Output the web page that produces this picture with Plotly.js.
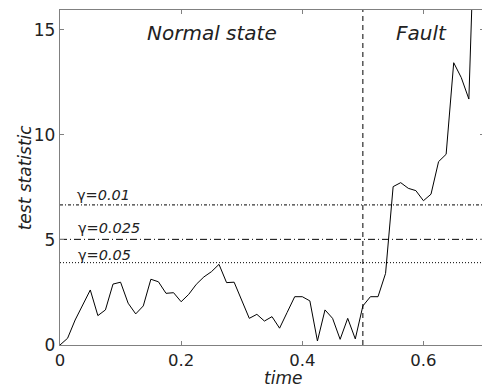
<!DOCTYPE html>
<html>
<head>
<meta charset="utf-8">
<script src="https://cdn.plot.ly/plotly-3.0.1.min.js"></script>
<style>
html,body{margin:0;padding:0;overflow:hidden;background:#fff;}
#chart{width:484px;height:389px;}
</style>
</head>
<body>
<div id="chart"></div>
<script>
// ---- data ----
const timeStep = 0.0125;
const testStatistic = [
  0, 0.32, 1.19, 1.90, 2.62, 1.40, 1.67, 2.90, 2.99, 1.99,
  1.48, 1.86, 3.13, 3.01, 2.46, 2.49, 2.06, 2.41, 2.89, 3.24,
  3.49, 3.84, 2.97, 2.99, 2.15, 1.27, 1.46, 1.14, 1.35, 0.80,
  1.55, 2.30, 2.30, 2.10, 0.19, 1.67, 1.27, 0.27, 1.27, 0.29,
  1.86, 2.30, 2.30, 3.41, 7.54, 7.73, 7.46, 7.35, 6.87, 7.18,
  8.73, 9.08, 13.44, 12.73, 11.71, 23.0
];
const timeValues = testStatistic.map((_, i) => i * timeStep);
const thresholdLabels = ['γ=0.01', 'γ=0.025', 'γ=0.05'];
const thresholdValues = [6.67, 5.03, 3.92];
const faultTime = [0.5];
const regionLabels = ['Normal state', 'Fault'];
const regionCenters = [0.251, 0.597];
const xTicks = [0, 0.2, 0.4, 0.6];
const xTickLabels = ['0', '0.2', '0.4', '0.6'];
const yTicks = [0, 5, 10, 15];
const yTickLabels = ['0', '5', '10', '15'];
const xRange = [0, 0.7];
const yRange = [0, 15.95];
const xTitle = 'time';
const yTitle = 'test statistic';

// ---- styles ----
const font = 'DejaVu Sans, Verdana, sans-serif';
const textColor = '#222';
const axisColor = '#808080';
const thresholdDash = ['3px,2px,1px,2px', '7px,3px,1px,3px', '1px,2px'];

const traces = [];
thresholdValues.forEach((v, k) => {
  traces.push({
    x: xRange, y: [v, v], mode: 'lines', type: 'scatter',
    line: {color: '#000', width: 1, dash: thresholdDash[k]},
    hoverinfo: 'skip', showlegend: false
  });
});
traces.push({
  x: [faultTime[0], faultTime[0]], y: yRange, mode: 'lines', type: 'scatter',
  line: {color: '#000', width: 1, dash: '5px,4px'},
  hoverinfo: 'skip', showlegend: false
});
traces.push({
  x: timeValues, y: testStatistic, mode: 'lines', type: 'scatter',
  line: {color: '#000', width: 1}, showlegend: false
});
// invisible trace so the tick-mark overlay axis is drawn
traces.push({
  x: xRange, y: yRange, xaxis: 'x2', mode: 'lines', type: 'scatter',
  line: {color: 'rgba(0,0,0,0)', width: 0}, hoverinfo: 'skip', showlegend: false
});

const thresholdLabelY = [7.14, 5.57, 4.29];
const annotations = [];
thresholdLabels.forEach((t, k) => {
  const parts = t.split('=');
  annotations.push({
    x: k === 0 ? 0.024 : 0.027, y: thresholdLabelY[k], xref: 'x', yref: 'y',
    text: parts[0] + '<i>=' + parts[1] + '</i>', showarrow: false, xanchor: 'left', yanchor: 'middle',
    font: {family: font, size: 14.5, color: textColor}
  });
});
regionLabels.forEach((t, k) => {
  annotations.push({
    x: regionCenters[k], y: 14.86, xref: 'x', yref: 'y',
    text: '<i>' + t + '</i>', showarrow: false, xanchor: 'center', yanchor: 'middle',
    font: {family: font, size: 20, color: textColor}
  });
});
annotations.push({
  x: 0.526, y: -0.1313, xref: 'paper', yref: 'paper',
  text: '<i>' + xTitle + '</i>', showarrow: false, xanchor: 'center', yanchor: 'bottom',
  font: {family: font, size: 17, color: textColor}, borderpad: 0
});
annotations.push({
  x: -0.083, y: 0.5, xref: 'paper', yref: 'paper', textangle: -90,
  text: '<i>' + yTitle + '</i>', showarrow: false, xanchor: 'center', yanchor: 'middle',
  font: {family: font, size: 17, color: textColor}
});

const layout = {
  width: 484, height: 389,
  margin: {l: 60, r: 0, t: 10, b: 44, pad: 0},
  paper_bgcolor: '#fff', plot_bgcolor: '#fff',
  showlegend: false,
  font: {family: font, color: textColor, size: 17},
  xaxis: {
    range: xRange, tickvals: xTicks, ticktext: xTickLabels,
    ticks: '', showline: true, linecolor: axisColor, linewidth: 1.3, mirror: true,
    showgrid: false, zeroline: false,
    tickfont: {family: font, size: 16.5, color: textColor}
  },
  xaxis2: {
    range: xRange, tickvals: xTicks, overlaying: 'x', anchor: 'y', side: 'bottom',
    ticks: 'inside', ticklen: 4, tickcolor: axisColor, tickwidth: 1,
    showline: false, mirror: 'ticks', showticklabels: false,
    showgrid: false, zeroline: false
  },
  yaxis: {
    range: yRange, tickvals: yTicks, ticktext: yTickLabels,
    ticks: 'inside', ticklen: 4, tickcolor: axisColor, tickwidth: 1,
    showline: true, linecolor: axisColor, linewidth: 1.3, mirror: 'ticks',
    showgrid: false, zeroline: false,
    tickfont: {family: font, size: 17, color: textColor}
  },
  annotations: annotations
};

Plotly.newPlot('chart', traces, layout, {staticPlot: true, displayModeBar: false});
</script>
</body>
</html>
